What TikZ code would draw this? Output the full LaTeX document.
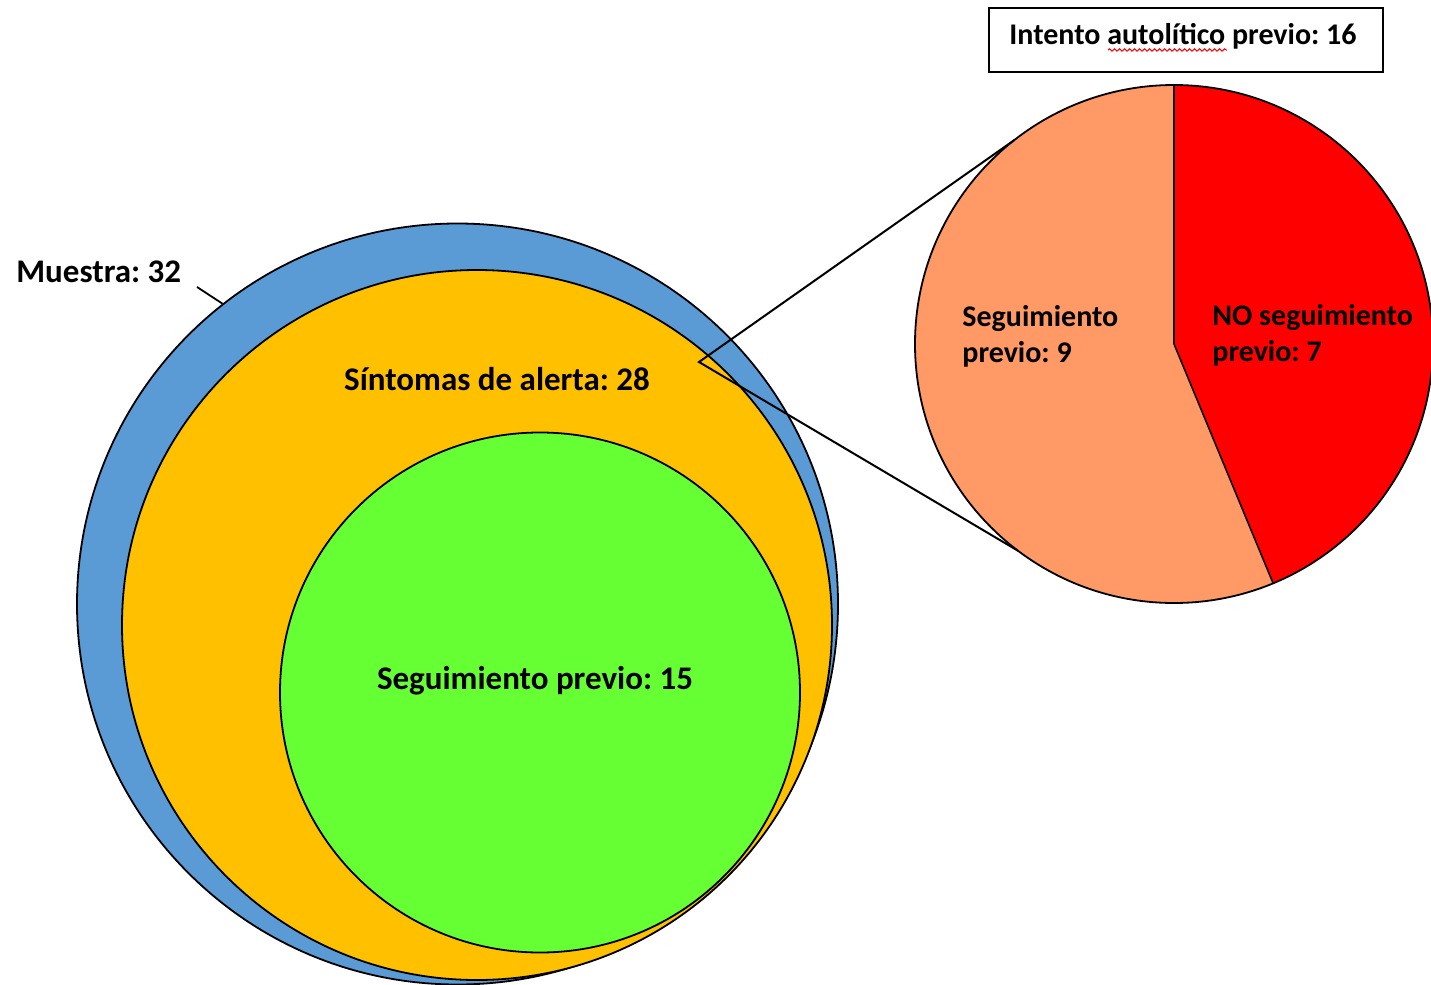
\documentclass[tikz,border=0pt]{standalone}
\usepackage{fontspec}
\setmainfont{Carlito}
\usetikzlibrary{decorations.pathmorphing}
\definecolor{cblue}{HTML}{5B9BD5}
\definecolor{corange}{HTML}{FFC000}
\definecolor{cgreen}{HTML}{66FF33}
\definecolor{csalmon}{HTML}{FF9966}
\definecolor{cred}{HTML}{FF0000}
\frenchspacing
\begin{document}
\begin{tikzpicture}[x=0.5pt,y=-0.5pt,
  disc/.style={circle,draw=black,line width=0.9pt,inner sep=0pt,outer sep=0pt},
  lbl/.style={font=\fontsize{16.5}{19}\selectfont\bfseries,inner sep=0pt,anchor=base west},
  slbl/.style={lbl,font=\fontsize{15}{18}\selectfont\bfseries},
  ln/.style={draw=black,line width=1pt}]
\useasboundingbox (0,0) rectangle (1431,985);
% nested circles
\node[disc,fill=cblue,minimum size=380.5pt] (muestra) at (457.5,604) {};
\node[disc,fill=corange,minimum size=355pt] (sintomas) at (477,625) {};
\node[disc,fill=cgreen,minimum size=260pt] (seguim) at (540,692.5) {};
% pie
\coordinate (pc) at (1174,344);
\fill[csalmon] (pc) circle[radius=259];
\fill[cred] (pc) -- ++(-90:259) arc[start angle=-90,end angle=67.5,radius=259] -- cycle;
\draw[line width=0.8pt] (pc) -- ++(-90:259);
\draw[line width=0.8pt] (pc) -- ++(67.5:259);
\node[disc,minimum size=259pt] (pie) at (pc) {};
% zoom lines
\coordinate (apex) at (699,362);
\draw[ln] (pie.128) -- (apex) -- (pie.233);
% leader
\coordinate (lead) at (197,287);
\draw[line width=0.9pt] (lead) -- (muestra.128.5);
% labels
\node[lbl] (tmuestra) at (16,282) {Muestra: 32};
\node[lbl,anchor=base] (tsint) at (497,390) {Síntomas de alerta: 28};
\node[lbl,anchor=base] (tseg) at (535,689) {Seguimiento previo: 15};
\node[slbl] (tpa1) at (962,326) {Seguimiento};
\node[slbl] (tpa2) at (962,362) {previo: 9};
\node[slbl] (tpb1) at (1212,325) {NO seguimiento};
\node[slbl] (tpb2) at (1212,361) {previo: 7};
% title box
\node[draw,line width=0.9pt,minimum width=197pt,minimum height=32pt,inner sep=0pt] (box) at (1186,40) {};
\node[slbl,anchor=base] (tbox) at (1183,45) {Intento autolítico previo: 16};
\draw[cred,line width=0.5pt,decorate,decoration={snake,amplitude=0.6pt,segment length=2.5pt}] (1108,50) -- (1227,50);
\end{tikzpicture}
\end{document}
